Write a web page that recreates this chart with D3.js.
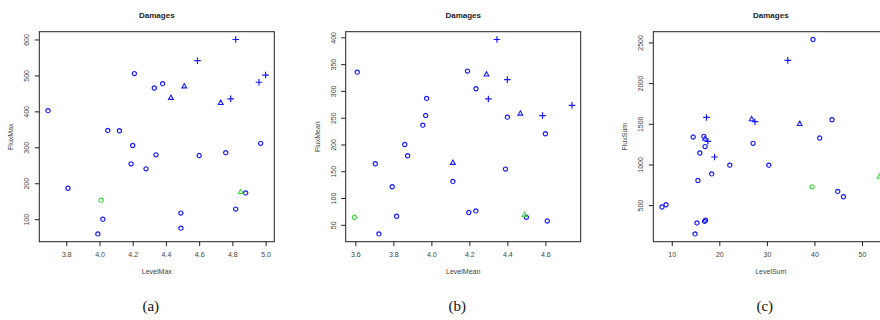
<!DOCTYPE html>
<html>
<head>
<meta charset="utf-8">
<script src="https://cdn.jsdelivr.net/npm/d3@7"></script>
<style>
  body { margin: 0; background: #fff; }
  svg { display: block; }
  text { font-family: "Liberation Sans", Arial, sans-serif; }
</style>
</head>
<body>
<svg id="chart" width="880" height="320"></svg>
<script>
// marker kinds: o = blue circle, t = blue triangle, p = blue plus, go = green circle, gt = green triangle

// panel (a)
const levelMax = [3.69, 4.05, 4.12, 4.21, 4.20, 4.33, 4.38, 4.97, 4.34, 4.60, 4.76, 4.19, 4.28, 3.81, 4.02, 3.99, 4.49, 4.49, 4.88, 4.82,
                  4.01, 4.85, 4.43, 4.51, 4.73, 4.59, 4.82, 4.79, 4.96, 5.00];
const fluxMax = [402, 347, 346, 505, 305, 465, 477, 311, 279, 277, 285, 254, 240, 186, 100, 59, 117, 75, 173, 128,
                 153, 176, 438, 470, 424, 541, 600, 435, 481, 501];
const kindMax = ["o","o","o","o","o","o","o","o","o","o","o","o","o","o","o","o","o","o","o","o",
                 "go","gt","t","t","t","p","p","p","p","p"];

// panel (b)
const levelMean = [3.61, 4.19, 4.235, 3.975, 3.97, 3.955, 4.40, 4.60, 3.86, 3.875, 3.705, 4.113, 4.39, 3.794, 3.817, 3.724, 4.197, 4.234, 4.50, 4.61,
                   3.595, 4.49, 4.29, 4.468, 4.113, 4.345, 4.40, 4.30, 4.585, 4.74];
const fluxMean = [335, 337, 304, 286, 254, 236, 251, 220, 200, 179, 164, 131, 154, 121, 66, 33, 73, 76, 64, 57,
                  64, 69, 331, 258, 166, 396, 321, 285, 254, 273];
const kindMean = ["o","o","o","o","o","o","o","o","o","o","o","o","o","o","o","o","o","o","o","o",
                  "go","gt","t","t","t","p","p","p","p","p"];

// panel (c)
const levelSum = [39.7, 43.7, 14.5, 16.75, 27.1, 41.1, 17.0, 15.9, 22.2, 30.4, 18.4, 15.5, 44.9, 46.1, 8.8, 7.95, 15.3, 16.9, 17.1, 14.9,
                  39.5, 53.7, 26.8, 36.9, 17.0, 34.4, 17.3, 27.5, 17.6, 19.0];
const fluxSum = [2537, 1550, 1337, 1346, 1260, 1325, 1220, 1141, 991, 991, 884, 803, 669, 603, 505, 477, 281, 300, 314, 146,
                 725, 852, 1558, 1501, 1318, 2280, 1578, 1526, 1285, 1092];
const kindSum = ["o","o","o","o","o","o","o","o","o","o","o","o","o","o","o","o","o","o","o","o",
                 "go","gt","t","t","t","p","p","p","p","p"];

const xTicksA = [3.8, 4.0, 4.2, 4.4, 4.6, 4.8, 5.0];
const yTicksA = [100, 200, 300, 400, 500, 600];
const xTicksB = [3.6, 3.8, 4.0, 4.2, 4.4, 4.6];
const yTicksB = [50, 100, 150, 200, 250, 300, 350, 400];
const xTicksC = [10, 20, 30, 40, 50];
const yTicksC = [500, 1000, 1500, 2000, 2500];

const panels = [
  { x: levelMax, y: fluxMax, kind: kindMax, xt: xTicksA, yt: yTicksA, fmt: d3.format(".1f"), xl: "LevelMax", yl: "FluxMax", cap: "(a)", left: 39.3 },
  { x: levelMean, y: fluxMean, kind: kindMean, xt: xTicksB, yt: yTicksB, fmt: d3.format(".1f"), xl: "LevelMean", yl: "FluxMean", cap: "(b)", left: 345.7 },
  { x: levelSum, y: fluxSum, kind: kindSum, xt: xTicksC, yt: yTicksC, fmt: d3.format("d"), xl: "LevelSum", yl: "FluxSum", cap: "(c)", left: 653.3 }
];

const plotTop = 31.7, plotBottom = 241.7, plotW = 235;
const blue = "#1a1aff", green = "#3fd83f";
const svg = d3.select("#chart");

// R style: data range padded by 4% on each side
function padded(vals) {
  const [lo, hi] = d3.extent(vals);
  const p = (hi - lo) * 0.04;
  return [lo - p, hi + p];
}

panels.forEach(pn => {
  const x = d3.scaleLinear().domain(padded(pn.x)).range([pn.left, pn.left + plotW]);
  const y = d3.scaleLinear().domain(padded(pn.y)).range([plotBottom, plotTop]);
  const g = svg.append("g");

  // x axis
  const xa = g.append("g")
    .attr("transform", `translate(0,${plotBottom})`)
    .call(d3.axisBottom(x).tickValues(pn.xt).tickFormat(pn.fmt).tickSize(4.5).tickPadding(6));
  xa.select(".domain").remove();
  xa.selectAll("line").attr("stroke", "#222");
  xa.selectAll("text").attr("font-size", "7px").attr("fill", "#444").attr("font-family", null);

  // y axis, labels parallel to the axis
  const ya = g.append("g")
    .attr("transform", `translate(${pn.left},0)`)
    .call(d3.axisLeft(y).tickValues(pn.yt).tickFormat(d3.format("d")).tickSize(4.5));
  ya.select(".domain").remove();
  ya.selectAll("line").attr("stroke", "#222");
  ya.selectAll("text")
    .attr("x", null).attr("dy", "0.35em")
    .attr("transform", "translate(-12.6,0) rotate(-90)")
    .attr("text-anchor", "middle")
    .attr("font-size", "7px").attr("fill", "#444").attr("font-family", null);

  // box
  g.append("rect")
    .attr("x", pn.left).attr("y", plotTop)
    .attr("width", plotW).attr("height", plotBottom - plotTop)
    .attr("fill", "none").attr("stroke", "#222").attr("stroke-width", 1);

  // titles
  const cx = pn.left + plotW / 2;
  g.append("text").attr("x", cx).attr("y", 17.5)
    .attr("text-anchor", "middle").attr("font-size", "8px").attr("font-weight", "bold").attr("fill", "#222")
    .text("Damages");
  g.append("text").attr("x", cx).attr("y", 274)
    .attr("text-anchor", "middle").attr("font-size", "7px").attr("fill", "#444")
    .text(pn.xl);
  g.append("text")
    .attr("transform", `translate(${pn.left - 28.3},${(plotTop + plotBottom) / 2}) rotate(-90)`)
    .attr("dy", "0.35em")
    .attr("text-anchor", "middle").attr("font-size", "7px").attr("fill", "#444")
    .text(pn.yl);
  g.append("text").attr("x", cx - 6).attr("y", 311)
    .attr("text-anchor", "middle").attr("font-size", "15px")
    .style("font-family", "'Liberation Serif', 'Times New Roman', serif").attr("fill", "#111")
    .text(pn.cap);

  // points
  const pts = g.append("g").selectAll("g")
    .data(pn.x.map((v, i) => ({ x: v, y: pn.y[i], k: pn.kind[i] })))
    .join("g")
    .attr("transform", d => `translate(${x(d.x)},${y(d.y)})`);

  pts.filter(d => d.k === "o" || d.k === "go")
    .append("circle").attr("r", 2.1)
    .attr("fill", "none").attr("stroke-width", 1.2)
    .attr("stroke", d => d.k === "go" ? green : blue);

  pts.filter(d => d.k === "t" || d.k === "gt")
    .append("path").attr("d", "M0,-2.6L2.4,1.7L-2.4,1.7Z")
    .attr("fill", "none").attr("stroke-width", 1.1)
    .attr("stroke", d => d.k === "gt" ? green : blue);

  pts.filter(d => d.k === "p")
    .append("path").attr("d", "M-3.3,0H3.3M0,-3.3V3.3")
    .attr("fill", "none").attr("stroke-width", 1.2)
    .attr("stroke", blue);
});
</script>
</body>
</html>
